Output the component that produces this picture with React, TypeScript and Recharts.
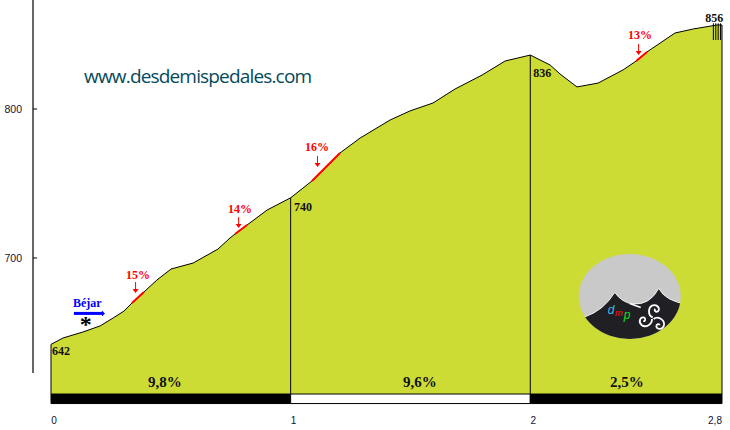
import React from "react";
import { ComposedChart, Area, Line, XAxis, YAxis, ReferenceLine, ReferenceArea, ReferenceDot } from "recharts";

const kmValues = [0, 0.05, 0.133, 0.205, 0.259, 0.305, 0.338, 0.388, 0.442, 0.501, 0.593, 0.697, 0.747, 0.768, 0.818, 0.902, 1.0, 1.089, 1.206, 1.29, 1.415, 1.498, 1.594, 1.686, 1.799, 1.895, 2.0, 2.083, 2.124, 2.195, 2.283, 2.387, 2.442, 2.487, 2.604, 2.68, 2.78, 2.8];
const elevations = [642, 646.3, 650.3, 654.4, 659.7, 664.4, 669.8, 677.2, 685.2, 692.6, 696.6, 706, 713.4, 716.1, 722.1, 732.2, 740.4, 751.7, 770.5, 780.5, 792.6, 798.7, 804, 813.4, 822.8, 832.2, 836.2, 829.5, 823.5, 814.8, 817.4, 826.2, 832.2, 838.3, 851, 853.7, 856.4, 856.4];
const steepRanges = [[0.338, 0.388], [0.768, 0.818], [1.089, 1.206], [2.442, 2.487]];
const xTicks = [0, 1, 2, 2.8];
const yTicks = [700, 800];
const splitKm = [0, 1, 2, 2.8];
const hatchKm = [2.764, 2.774, 2.784, 2.794];
const pointLabels = [
  { text: "642", km: 0.004, elev: 634.9 },
  { text: "740", km: 1.014, elev: 731.5 },
  { text: "836", km: 2.012, elev: 821.5 },
  { text: "856", km: 2.73, elev: 858.4 },
];
const steepLabels = [
  { text: "15%", km: 0.313, elev: 685.9 },
  { text: "14%", km: 0.739, elev: 730.2 },
  { text: "16%", km: 1.06, elev: 771.8 },
  { text: "13%", km: 2.408, elev: 847 },
];
const steepArrows = [
  { km: 0.353, elev: 676.5 },
  { km: 0.783, elev: 720.1 },
  { km: 1.112, elev: 761.1 },
  { km: 2.452, elev: 836.2 },
];
const gradeLabels = [
  { text: "9,8%", km: 0.405 },
  { text: "9,6%", km: 1.469 },
  { text: "2,5%", km: 2.333 },
];
const barSegments = [
  { from: 0, to: 1, fill: "#000000" },
  { from: 1, to: 2, fill: "#ffffff" },
  { from: 2, to: 2.8, fill: "#000000" },
];

const rows = kmValues.map((km, i) => ({
  km,
  elev: elevations[i],
  steep: steepRanges.some(([a, b]) => km >= a && km <= b) ? elevations[i] : null,
}));

const X_MIN = -0.0751;
const Y_MIN = 602;
const Y_MAX = 873.15;
const BASE = 608.7;
const SERIF = "'Liberation Serif', serif";
const SANS = "'Liberation Sans', sans-serif";

const textShape = (text: string, fill: string, size: number) => (p: any) => (
  <text x={p.cx} y={p.cy} fill={fill} fontFamily={SERIF} fontWeight="bold" fontSize={size}>{text}</text>
);

const arrowShape = (p: any) => (
  <g>
    <line x1={p.cx} y1={p.cy - 11} x2={p.cx} y2={p.cy - 2} stroke="#ff0000" strokeWidth={1} />
    <path d={`M${p.cx - 3} ${p.cy - 4}L${p.cx} ${p.cy}L${p.cx + 3} ${p.cy - 4}Z`} fill="#ff0000" />
  </g>
);

const blueArrow = (p: any) => (
  <g>
    <rect x={p.cx - 31} y={p.cy - 1.5} width={29} height={3} fill="#0000ff" />
    <path d={`M${p.cx - 3} ${p.cy - 3}L${p.cx} ${p.cy}L${p.cx - 3} ${p.cy + 3}Z`} fill="#0000ff" />
  </g>
);

const arm = "M0 -1C-5 -3 -5 -11 0 -13C5 -14.5 8 -9 5 -7C3 -6 1 -8 2.5 -9.5";

const logoShape = (p: any) => (
  <g transform={`translate(${p.cx} ${p.cy})`}>
    <defs>
      <clipPath id="logoClip"><ellipse cx={0} cy={0} rx={51} ry={42.5} /></clipPath>
    </defs>
    <ellipse cx={0} cy={0} rx={51} ry={42.5} fill="#c9c9c9" />
    <g clipPath="url(#logoClip)">
      <path d="M-58 24L-45 20.5Q-26 14 -15 -4Q-8 6 3 7.5Q20 9 29 -8Q36 5 58 8L58 50L-58 50Z" fill="#1f1f24" stroke="#eeeeee" strokeWidth={1} />
    </g>
    <line x1={0} y1={7} x2={11} y2={11} stroke="#ffffff" strokeWidth={1.5} />
    <text x={-22} y={18} fill="#40b8e0" fontFamily={SANS} fontStyle="italic" fontSize={12}>d</text>
    <text x={-15} y={20} fill="#d01010" fontFamily={SANS} fontStyle="italic" fontWeight="bold" fontSize={9}>m</text>
    <text x={-6} y={23} fill="#10e020" fontFamily={SANS} fontStyle="italic" fontSize={12}>p</text>
    <g transform="translate(23 22)" fill="none" stroke="#ffffff" strokeWidth={1.8}>
      <path d={arm} />
      <path d={arm} transform="rotate(120)" />
      <path d={arm} transform="rotate(240)" />
    </g>
  </g>
);

const XTick = (p: any) => (
  <text x={p.x + (p.payload.value === 2.8 ? -7 : 3)} y={424} fill="#111133" fontFamily={SANS} fontSize={10} textAnchor="middle">
    {String(p.payload.value).replace(".", ",")}
  </text>
);

const YTick = (p: any) => (
  <text x={22} y={p.y + 4} fill="#111133" fontFamily={SANS} fontSize={10.5} textAnchor="end">{p.payload.value}</text>
);

export default function App() {
  return (
    <div style={{ position: "absolute", left: 0, top: 0, width: 730, height: 430, background: "#ffffff" }}>
      <ComposedChart width={730} height={430} data={rows} margin={{ left: 0, right: 8, top: 0, bottom: 0 }}>
        <XAxis dataKey="km" type="number" domain={[X_MIN, 2.8]} ticks={xTicks} interval={0} axisLine={false} tickLine={false} height={26} tick={<XTick />} allowDataOverflow />
        <YAxis type="number" domain={[Y_MIN, Y_MAX]} ticks={yTicks} width={33} axisLine={false} tickLine={false} tick={<YTick />} allowDataOverflow />

        <Area dataKey="elev" type="linear" baseValue={BASE} fill="#cddc35" fillOpacity={1} stroke="#000000" strokeWidth={1} dot={false} activeDot={false} isAnimationActive={false} />
        <Line dataKey="steep" type="linear" stroke="#ff0000" strokeWidth={2} dot={false} activeDot={false} connectNulls={false} isAnimationActive={false} />

        <ReferenceLine segment={[{ x: X_MIN, y: Y_MAX }, { x: X_MIN, y: 622.8 }]} stroke="#000000" strokeWidth={1.2} ifOverflow="visible" />
        {yTicks.map((t) => (
          <ReferenceLine key={t} segment={[{ x: X_MIN, y: t }, { x: -0.058, y: t }]} stroke="#000000" ifOverflow="visible" />
        ))}

        {splitKm.map((k) => (
          <ReferenceLine key={k} segment={[{ x: k, y: BASE }, { x: k, y: elevations[kmValues.indexOf(k)] }]} stroke="#000000" strokeWidth={1} ifOverflow="visible" />
        ))}
        {hatchKm.map((k) => (
          <ReferenceLine key={k} segment={[{ x: k, y: 857.5 }, { x: k, y: 846.3 }]} stroke="#000000" strokeWidth={1} ifOverflow="visible" />
        ))}

        {barSegments.map((s) => (
          <ReferenceArea key={s.from} x1={s.from} x2={s.to} y1={Y_MIN + 0.3} y2={BASE} fill={s.fill} fillOpacity={1} stroke="#000000" strokeWidth={1} ifOverflow="visible" />
        ))}

        {pointLabels.map((l) => (
          <ReferenceDot key={l.text} x={l.km} y={l.elev} r={0} ifOverflow="visible" shape={textShape(l.text, "#111111", 12)} />
        ))}
        {steepLabels.map((l) => (
          <ReferenceDot key={l.text} x={l.km} y={l.elev} r={0} ifOverflow="visible" shape={textShape(l.text, "#ff0000", 12)} />
        ))}
        {steepArrows.map((a) => (
          <ReferenceDot key={a.km} x={a.km} y={a.elev} r={0} ifOverflow="visible" shape={arrowShape} />
        ))}
        {gradeLabels.map((l) => (
          <ReferenceDot key={l.text} x={l.km} y={613.4} r={0} ifOverflow="visible" shape={textShape(l.text, "#111111", 15)} />
        ))}

        <ReferenceDot x={0.092} y={667.1} r={0} ifOverflow="visible" shape={textShape("Béjar", "#0000ff", 12)} />
        <ReferenceDot x={0.225} y={662.8} r={0} ifOverflow="visible" shape={blueArrow} />
        <ReferenceDot x={0.12} y={650.2} r={0} ifOverflow="visible" shape={textShape("*", "#000000", 24)} />

        <ReferenceDot x={0.138} y={817.4} r={0} ifOverflow="visible" shape={(p: any) => (
          <text x={p.cx} y={p.cy} fill="#04495c" fontFamily="'Open Sans', sans-serif" fontSize={19} textLength={228} lengthAdjust="spacing">www.desdemispedales.com</text>
        )} />
        <ReferenceDot x={2.415} y={674.2} r={0} ifOverflow="visible" shape={logoShape} />
      </ComposedChart>
    </div>
  );
}
